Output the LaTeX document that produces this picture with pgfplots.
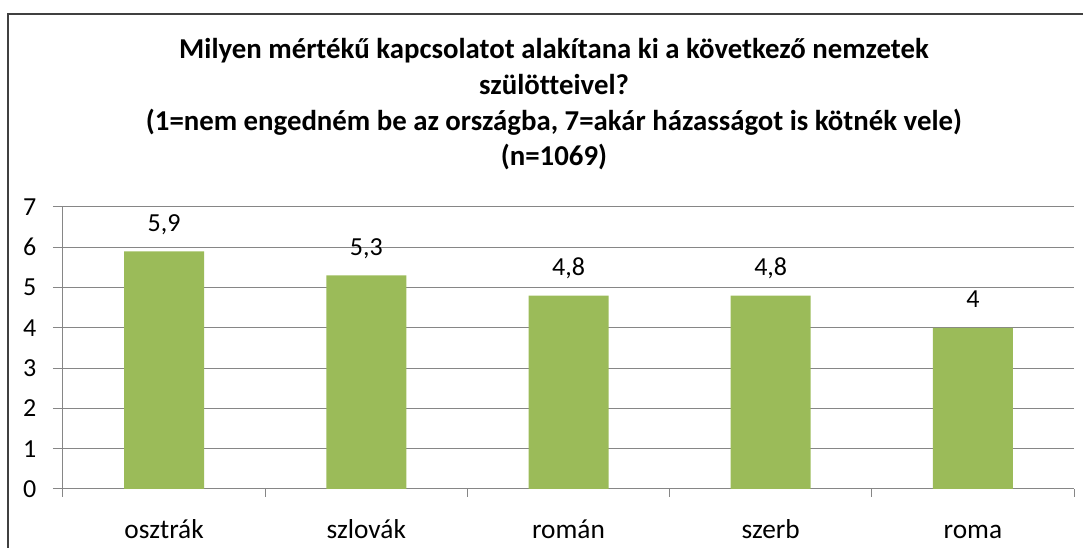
\documentclass[border=0pt]{standalone}
\usepackage{pgfplots}
\pgfplotsset{compat=1.18}
\usepackage{fontspec}
\setmainfont{Carlito}[Ligatures=NoCommon]
\definecolor{bargreen}{HTML}{9BBB59}
\definecolor{gridgray}{HTML}{868686}
\begin{document}
\begin{tikzpicture}
\begin{axis}[
  scale only axis, width=758.25pt, height=211.5pt,
  xmin=-0.5, xmax=4.5, ymin=0, ymax=7,
  axis x line*=bottom, axis y line*=left,
  axis line style={gridgray, line width=0.75pt},
  ytick={0,1,...,7},
  ymajorgrids, grid style={gridgray, line width=0.75pt},
  tick align=outside,
  tick style={gridgray, line width=0.75pt},
  major tick length=7.5pt,
  xtick={0,1,2,3,4},
  xticklabels={osztrák,szlovák,román,szerb,roma},
  xtick style={draw=none},
  extra x ticks={-0.5,0.5,1.5,2.5,3.5,4.5},
  extra x tick labels={},
  extra x tick style={xtick style={draw=gridgray, line width=0.75pt}, major tick length=6pt},
  xticklabel style={font=\fontsize{20.5}{23}\selectfont, anchor=base, yshift=-30pt},
  yticklabel style={font=\fontsize{19.5}{22}\selectfont, xshift=-9pt},
  /pgf/number format/assume math mode=true,
  /pgf/number format/use comma,
  ybar, bar width=60pt,
  nodes near coords,
  every node near coord/.append style={font=\fontsize{19.5}{22}\selectfont, anchor=base, yshift=15pt, black},
]
\addplot[fill=bargreen, draw=none] coordinates {(0,5.9) (1,5.3) (2,4.8) (3,4.8) (4,4.0)};
\coordinate (O) at (rel axis cs:0,0);
\end{axis}
\pgfresetboundingbox
\begin{scope}[shift={(O)}]
\begin{scope}[x=0.75pt,y=0.75pt,shift={(-63,-59)}]
\path[use as bounding box] (0,0) rectangle (1083,548);
\draw[line width=1.5pt, color=black!75] (8,-20) -- (8,534) -- (1100,534);
\begin{scope}[font=\fontsize{21.6}{24}\selectfont\bfseries]
\node[anchor=base, inner sep=0pt] at (554,489) {Milyen mértékű kapcsolatot alakítana ki a következő nemzetek};
\node[anchor=base, inner sep=0pt] at (554,453.3) {szülötteivel?};
\node[anchor=base, inner sep=0pt] at (554,417.7) {(1=nem engedném be az országba, 7=akár házasságot is kötnék vele)};
\node[anchor=base, inner sep=0pt] at (554,382) {(n=1069)};
\end{scope}
\end{scope}
\end{scope}
\end{tikzpicture}
\end{document}
